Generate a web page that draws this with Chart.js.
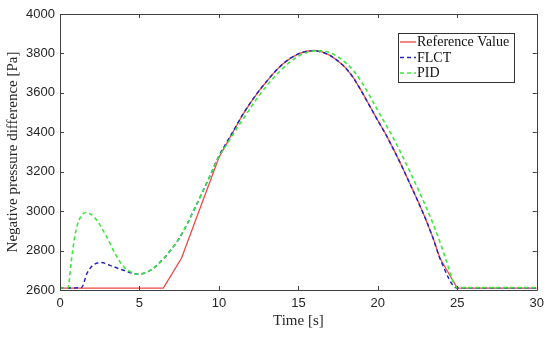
<!DOCTYPE html>
<html>
<head>
<meta charset="utf-8">
<script src="https://cdn.jsdelivr.net/npm/chart.js@4.4.0/dist/chart.umd.min.js"></script>
<style>
  html, body { margin: 0; padding: 0; background: #fff; }
  #wrap { width: 550px; height: 337px; }
</style>
</head>
<body>
<div id="wrap"><canvas id="chart"></canvas></div>
<script>
// Data
const refTime = [0, 6.5, 7.65, 10, 10.5, 11, 11.5, 12, 12.5, 13, 13.5, 14, 14.5, 15, 15.5, 16, 16.5, 17, 17.5, 18, 18.5, 19, 19.5, 20, 20.5, 21, 21.5, 22, 22.5, 23, 23.5, 23.9, 25, 30];
const refValue = [2610, 2610, 2762, 3272, 3345, 3418, 3490, 3552, 3608, 3658, 3705, 3745, 3776, 3798, 3811, 3815, 3808, 3790, 3762, 3725, 3672, 3605, 3532, 3460, 3390, 3312, 3230, 3143, 3055, 2962, 2858, 2762, 2610, 2610];

const flctTime = [0, 1.35, 1.7, 2.1, 2.6, 3.3, 4, 4.5, 4.9, 5.5, 6, 6.5, 7, 7.5, 8, 8.5, 9, 9.5, 10, 10.5, 11, 11.5, 12, 12.5, 13, 13.5, 14, 14.5, 15, 15.5, 16, 16.5, 17, 17.5, 18, 18.5, 19, 19.5, 20, 20.5, 21, 21.5, 22, 22.5, 23, 23.5, 23.9, 25, 30];
const flctValue = [2610, 2612, 2685, 2727, 2739, 2720, 2700, 2686, 2680, 2692, 2718, 2758, 2805, 2862, 2935, 3018, 3103, 3190, 3280, 3350, 3420, 3490, 3552, 3608, 3658, 3705, 3745, 3776, 3798, 3810, 3813, 3806, 3789, 3761, 3724, 3671, 3604, 3531, 3459, 3389, 3311, 3229, 3142, 3054, 2961, 2857, 2762, 2610, 2610];

const pidTime = [0, 0.5, 0.7, 0.95, 1.2, 1.65, 2.2, 2.9, 3.5, 4, 4.5, 4.9, 5.5, 6, 6.5, 7, 7.5, 8, 8.5, 9, 9.5, 10, 10.5, 11, 11.5, 12, 12.5, 13, 13.5, 14, 14.5, 15, 15.5, 16, 16.5, 17, 17.5, 18, 18.5, 19, 19.5, 20, 20.5, 21, 21.5, 22, 22.5, 23, 23.5, 24, 24.25, 25, 30];
const pidValue = [2610, 2610, 2740, 2880, 2955, 2993, 2965, 2875, 2780, 2718, 2690, 2680, 2692, 2718, 2758, 2805, 2862, 2935, 3018, 3103, 3190, 3275, 3340, 3405, 3465, 3525, 3583, 3635, 3682, 3723, 3758, 3786, 3804, 3813, 3813, 3803, 3782, 3751, 3709, 3652, 3583, 3510, 3439, 3367, 3287, 3204, 3117, 3027, 2931, 2822, 2762, 2612, 2612];

const seriesNames = ['Reference Value', 'FLCT', 'PID'];
const xTicks = [0, 5, 10, 15, 20, 25, 30];
const yTicks = [2600, 2800, 3000, 3200, 3400, 3600, 3800, 4000];

function toPoints(xs, ys) {
  return xs.map((x, i) => ({ x: x, y: ys[i] }));
}

const AXIS_COLOR = '#404040';
const TEXT_COLOR = '#262626';
const SERIF = "'Liberation Serif', 'Times New Roman', serif";
const SANS = "'Liberation Sans', Arial, sans-serif";

// MATLAB-like box with inward ticks on all four sides, plus the legend
const boxPlugin = {
  id: 'box',
  afterDraw(chart) {
    const { ctx, chartArea: a, scales } = chart;
    const tl = 4;
    ctx.save();
    ctx.strokeStyle = AXIS_COLOR;
    ctx.lineWidth = 1;
    ctx.beginPath();
    ctx.rect(Math.round(a.left) + 0.5, Math.round(a.top) + 0.5, Math.round(a.right - a.left), Math.round(a.bottom - a.top));
    ctx.stroke();

    ctx.beginPath();
    scales.x.ticks.forEach(t => {
      const px = Math.round(scales.x.getPixelForValue(t.value)) + 0.5;
      ctx.moveTo(px, a.bottom); ctx.lineTo(px, a.bottom - tl);
      ctx.moveTo(px, a.top); ctx.lineTo(px, a.top + tl);
    });
    scales.y.ticks.forEach(t => {
      const py = Math.round(scales.y.getPixelForValue(t.value)) + 0.5;
      ctx.moveTo(a.left, py); ctx.lineTo(a.left + tl, py);
      ctx.moveTo(a.right, py); ctx.lineTo(a.right - tl, py);
    });
    ctx.stroke();

    // legend
    const lx = 398, ly = 33, lw = 116, lh = 49;
    ctx.fillStyle = '#fff';
    ctx.fillRect(lx, ly, lw, lh);
    ctx.strokeStyle = '#333';
    ctx.strokeRect(lx + 0.5, ly + 0.5, lw, lh);
    ctx.font = '14px ' + SERIF;
    ctx.textBaseline = 'middle';
    chart.data.datasets.forEach((ds, i) => {
      const y = ly + 9 + i * 15.5;
      ctx.strokeStyle = ds.borderColor;
      ctx.lineWidth = 1.3;
      ctx.setLineDash(ds.borderDash || []);
      ctx.beginPath();
      ctx.moveTo(lx + 2, y); ctx.lineTo(lx + 18, y);
      ctx.stroke();
      ctx.setLineDash([]);
      ctx.fillStyle = '#111';
      ctx.fillText(ds.label, lx + 19, y + 0.5);
    });
    ctx.restore();
  }
};

const ctx = document.getElementById('chart');
new Chart(ctx, {
  type: 'line',
  data: {
    datasets: [
      {
        label: seriesNames[0],
        data: toPoints(refTime, refValue),
        borderColor: '#ec4a45',
        borderWidth: 1.3,
        tension: 0,
        pointRadius: 0,
        order: 3
      },
      {
        label: seriesNames[1],
        data: toPoints(flctTime, flctValue),
        borderColor: '#2323c8',
        borderWidth: 1.5,
        borderDash: [4, 3],
        cubicInterpolationMode: 'monotone',
        pointRadius: 0,
        order: 2
      },
      {
        label: seriesNames[2],
        data: toPoints(pidTime, pidValue),
        borderColor: '#3de83d',
        borderWidth: 1.6,
        borderDash: [4, 3],
        cubicInterpolationMode: 'monotone',
        pointRadius: 0,
        order: 1
      }
    ]
  },
  options: {
    responsive: true,
    maintainAspectRatio: false,
    animation: false,
    layout: { padding: { left: 0, right: 13, top: 14, bottom: 0 } },
    plugins: {
      legend: { display: false },
      tooltip: { enabled: false }
    },
    scales: {
      x: {
        type: 'linear',
        min: 0,
        max: 30,
        afterBuildTicks: scale => { scale.ticks = xTicks.map(v => ({ value: v })); },
        afterFit: scale => { scale.height = 47; },
        grid: { display: false, drawTicks: false },
        border: { display: false },
        ticks: {
          color: TEXT_COLOR,
          padding: 6,
          font: { family: SANS, size: 13 },
          callback: v => String(v)
        },
        title: {
          display: true,
          text: 'Time [s]',
          color: TEXT_COLOR,
          font: { family: SERIF, size: 15 },
          padding: { top: 0, bottom: 7 }
        }
      },
      y: {
        type: 'linear',
        min: 2600,
        max: 4000,
        afterBuildTicks: scale => { scale.ticks = yTicks.map(v => ({ value: v })); },
        afterFit: scale => { scale.width = 60; },
        grid: { display: false, drawTicks: false },
        border: { display: false },
        ticks: {
          color: TEXT_COLOR,
          padding: 5,
          font: { family: SANS, size: 13 },
          callback: v => String(v)
        },
        title: {
          display: true,
          text: 'Negative pressure difference [Pa]',
          color: TEXT_COLOR,
          font: { family: SERIF, size: 15 },
          padding: { top: 4, bottom: 0 }
        }
      }
    }
  },
  plugins: [boxPlugin]
});
</script>
</body>
</html>
